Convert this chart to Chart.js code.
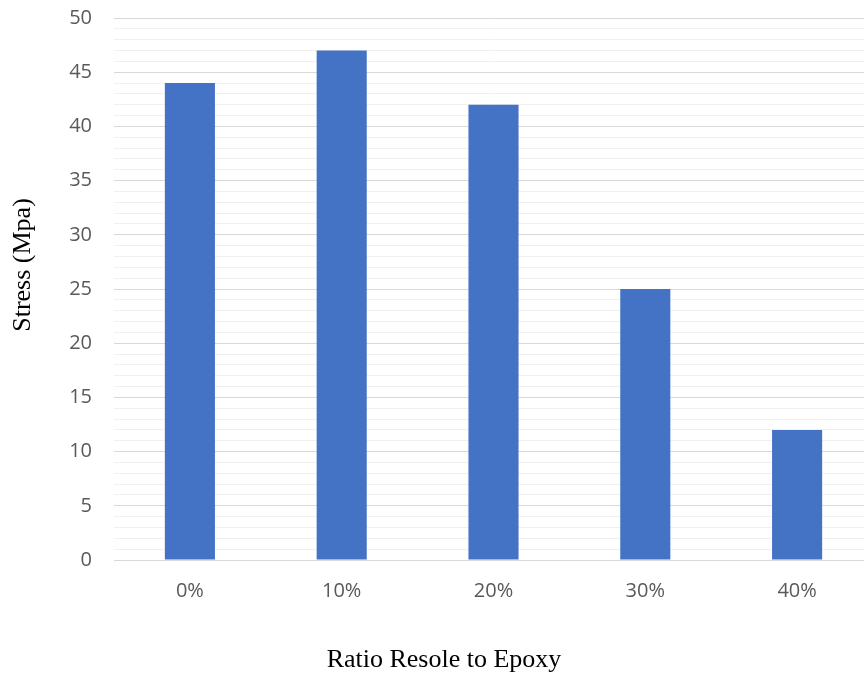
<!DOCTYPE html>
<html><head><meta charset="utf-8">
<script src="https://cdn.jsdelivr.net/npm/chart.js@4"></script>
<style>
html,body{margin:0;padding:0;overflow:hidden;background:#fff;}
#wrap{position:relative;width:873px;height:675px;}
</style></head>
<body><div id="wrap"><canvas id="c"></canvas></div>
<script>
const categories = ['0%','10%','20%','30%','40%'];
const stressValues = [44, 47, 42, 25, 12];
const yTitle = 'Stress (Mpa)';
const xTitle = 'Ratio Resole to Epoxy';

const axisTitles = {
  id: 'axisTitles',
  afterDraw(chart) {
    const ctx = chart.ctx;
    ctx.save();
    ctx.fillStyle = '#000';
    ctx.font = '26px "Liberation Serif"';
    ctx.textAlign = 'center';
    ctx.textBaseline = 'middle';
    ctx.fillText(xTitle, 444, 660);
    ctx.translate(23, 265);
    ctx.rotate(-Math.PI / 2);
    ctx.fillText(yTitle, 0, 0);
    ctx.restore();
  }
};

new Chart(document.getElementById('c'), {
  type: 'bar',
  data: { labels: categories, datasets: [{ data: stressValues, backgroundColor: '#4472C4', borderWidth: 0, categoryPercentage: 1, barPercentage: 0.33 }] },
  plugins: [axisTitles],
  options: {
    responsive: true, maintainAspectRatio: false, animation: false,
    layout: { autoPadding: false, padding: { top: 18, right: 0, bottom: 0, left: 0 } },
    plugins: { legend: { display: false }, tooltip: { enabled: false } },
    scales: {
      x: {
        grid: { display: false, drawTicks: false },
        border: { display: false },
        ticks: { color: '#595959', font: { family: 'Open Sans', size: 20 }, padding: 19 },
        afterFit: s => { s.height = 115; s.paddingLeft = 0; s.paddingRight = 0; }
      },
      y: {
        min: 0, max: 50,
        grid: {
          drawTicks: false,
          color: ctx => (ctx.tick && ctx.tick.value % 5 === 0) ? '#d9d9d9' : '#f0f0f0',
          lineWidth: 1
        },
        border: { display: false },
        ticks: { stepSize: 1, autoSkip: false, color: '#595959', font: { family: 'Open Sans', size: 20 }, padding: 22,
          callback: v => (v % 5 === 0 ? String(v) : '') },
        afterFit: s => { s.width = 114; s.paddingTop = 0; s.paddingBottom = 0; }
      }
    }
  }
});
</script></body></html>
